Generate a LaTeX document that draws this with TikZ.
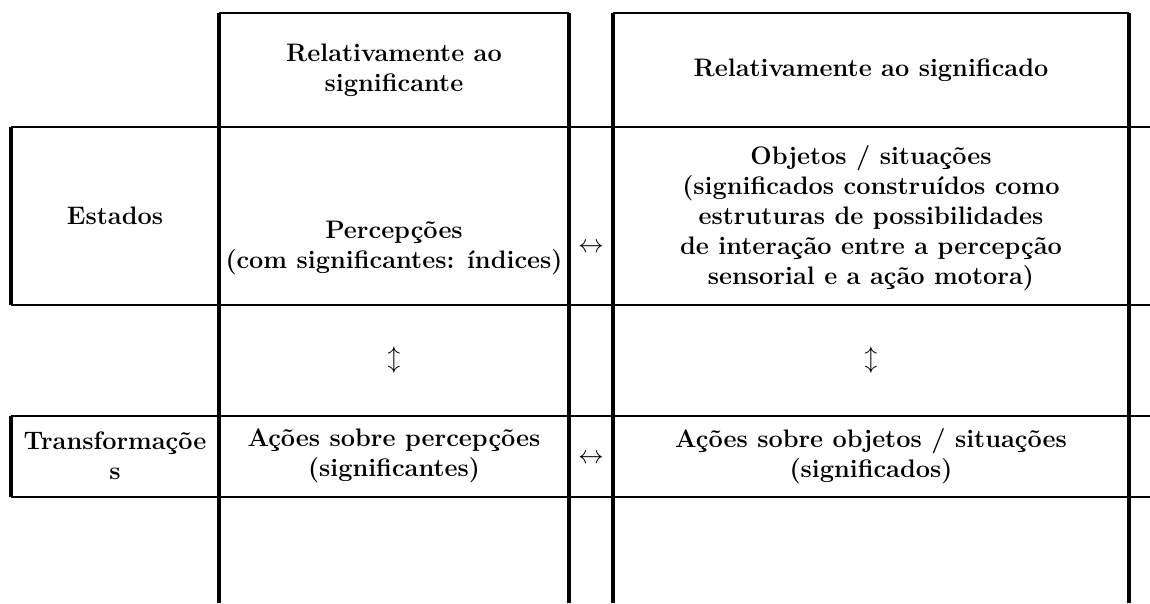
\documentclass[tikz,border=0pt]{standalone}
\usepackage{amsmath, amssymb}
\usepackage{tikz}

\begin{document}
\begin{tikzpicture}[
        txt/.style={align=center, inner sep=0pt, font=\fontsize{14.4}{17}\selectfont\bfseries},
        arr/.style={inner sep=0pt, font=\fontsize{15}{17}\selectfont},
        hline/.style={line width=1.4pt},
        vline/.style={line width=1.8pt}
    ]
        \useasboundingbox (0,0) rectangle (23,12.06);

        % horizontal rules
        \draw[hline] (4.38,11.80) -- (11.38,11.80);
        \draw[hline] (12.26,11.80) -- (22.58,11.80);
        \draw[hline] (0.22,9.52) -- (23,9.52);
        \draw[hline] (0.22,5.96) -- (23,5.96);
        \draw[hline] (0.22,3.74) -- (23,3.74);
        \draw[hline] (0.22,2.12) -- (23,2.12);

        % vertical rules
        \draw[vline] (0.22,9.52) -- (0.22,5.96);
        \draw[vline] (0.22,3.74) -- (0.22,2.12);
        \draw[vline] (4.38,11.80) -- (4.38,0);
        \draw[vline] (11.38,11.80) -- (11.38,0);
        \draw[vline] (12.26,11.80) -- (12.26,0);
        \draw[vline] (22.58,11.80) -- (22.58,0);

        \node[txt] at (7.88,10.66) (hsig) {Relativamente ao\\significante};
        \node[txt] at (17.42,10.66) (hsdo) {Relativamente ao significado};

        \node[txt] at (2.30,7.74) (est) {Estados};
        \node[txt] at (7.88,7.10) (perc) {Percepções\\(com significantes: índices)};
        \node[arr] at (11.82,7.10) (lr1) {$\leftrightarrow$};
        \node[txt] at (17.42,7.70) (obj) {Objetos / situações\\(significados construídos como\\estruturas de possibilidades\\de interação entre a percepção\\sensorial e a ação motora)};

        \node[arr] at (7.88,4.86) (ud1) {$\updownarrow$};
        \node[arr] at (17.42,4.86) (ud2) {$\updownarrow$};

        \node[txt] at (2.30,2.94) (trf) {Transformaçõe\\s};
        \node[txt] at (7.88,2.94) (acp) {Ações sobre percepções\\(significantes)};
        \node[arr] at (11.82,2.88) (lr2) {$\leftrightarrow$};
        \node[txt] at (17.42,2.94) (aco) {Ações sobre objetos / situações\\(significados)};
    \end{tikzpicture}
\end{document}
